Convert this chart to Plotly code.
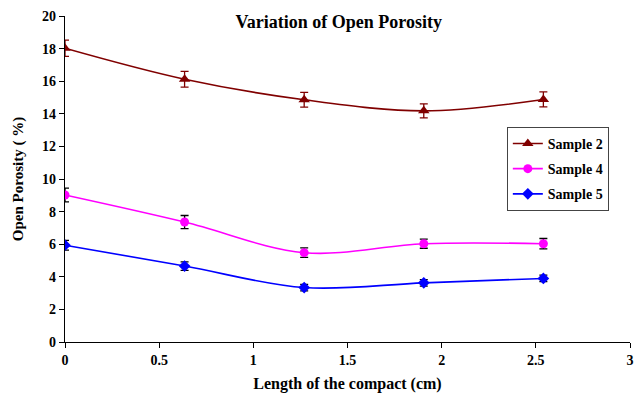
import plotly.graph_objects as go

x_vals = [0, 0.635, 1.27, 1.905, 2.54]

s2_y = [18.02, 16.12, 14.86, 14.18, 14.88]
s2_err = [0.5, 0.48, 0.45, 0.43, 0.46]

s4_y = [9.02, 7.36, 5.48, 6.03, 6.03]
s4_err = [0.42, 0.4, 0.29, 0.28, 0.32]

s5_y = [5.94, 4.66, 3.34, 3.63, 3.9]
s5_err = [0.3, 0.26, 0.2, 0.2, 0.2]

x_ticks = [0, 0.5, 1, 1.5, 2, 2.5, 3]
x_tick_text = ["0", "0.5", "1", "1.5", "2", "2.5", "3"]
y_ticks = list(range(0, 21, 2))

series = [
    ("Sample 2", s2_y, s2_err, "#800000", "#800000", "triangle-up", 10),
    ("Sample 4", s4_y, s4_err, "#FF00FF", "#000000", "circle", 9),
    ("Sample 5", s5_y, s5_err, "#0000FF", "#000000", "diamond", 9),
]

FONT = "Liberation Serif, Times New Roman, serif"

fig = go.Figure()
for name, ys, errs, col, ecol, sym, ms in series:
    fig.add_trace(go.Scatter(
        x=x_vals, y=ys, name="<b>%s</b>" % name, mode="lines+markers",
        legendgroup=name,
        line=dict(color=col, width=1.6, shape="spline", smoothing=1.0),
        marker=dict(symbol=sym, size=ms, color=col),
        error_y=dict(type="data", array=errs, visible=True, color=ecol,
                     thickness=1.3, width=4),
    ))

fig.update_layout(
    width=638, height=393,
    margin=dict(l=65, r=4, t=16, b=49),
    paper_bgcolor="white", plot_bgcolor="white",
    font=dict(family=FONT, size=14, color="black"),
    title=dict(text="<b>Variation of Open Porosity</b>", x=0.531, xanchor="center",
               y=0.944, yanchor="middle", font=dict(family=FONT, size=18, color="black")),
    showlegend=True,
    legend=dict(x=0.782, y=0.66, xanchor="left", yanchor="top",
                bordercolor="#444444", borderwidth=1, bgcolor="white",
                font=dict(family=FONT, size=14, color="black"),
                itemwidth=30, tracegroupgap=4),
    xaxis=dict(range=[0, 3], tickvals=x_ticks,
               ticktext=["<b>%s</b>" % t for t in x_tick_text],
               showline=True, linecolor="black", linewidth=1.2,
               ticks="outside", ticklen=5, tickcolor="black", showgrid=False, zeroline=False,
               tickfont=dict(family=FONT, size=14),
               title=dict(text="<b>Length of the compact (cm)</b>", standoff=10,
                          font=dict(family=FONT, size=16))),
    yaxis=dict(range=[0, 20], tickvals=y_ticks,
               ticktext=["<b>%d</b>" % v for v in y_ticks],
               showline=True, linecolor="black", linewidth=1.2,
               ticks="outside", ticklen=5, tickcolor="black", showgrid=False, zeroline=False,
               tickfont=dict(family=FONT, size=14),
               title=dict(text="<b>Open Porosity ( %)</b>", standoff=14,
                          font=dict(family=FONT, size=15))),
)

fig.write_html("out.html")
